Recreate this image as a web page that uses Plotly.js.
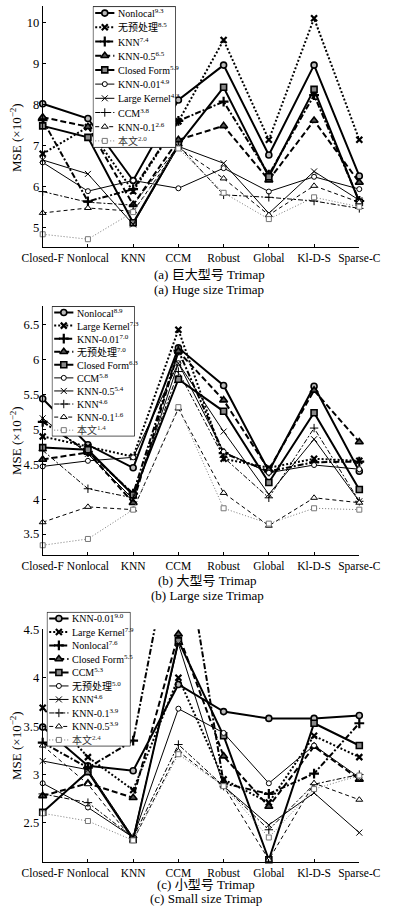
<!DOCTYPE html>
<html><head><meta charset="utf-8">
<script src="https://cdn.plot.ly/plotly-3.0.1.min.js"></script>
<style>html,body{margin:0;padding:0;background:#fff}#chart{width:395px;height:914px}</style>
</head><body><div id="chart"></div>
<script>
// ---------- data ----------
const categories = ['Closed-F','Nonlocal','KNN','CCM','Robust','Global','Kl-D-S','Sparse-C'];

// (a) Huge size trimap
const namesA = ['Nonlocal','无预处理','KNN','KNN-0.5','Closed Form','KNN-0.01','Large Kernel','CCM','KNN-0.1','本文'];
const ranksA = ['9.3','8.5','7.4','6.5','5.9','4.9','4.3','3.8','2.6','2.0'];
const hugeNonlocal    = [8.02, 7.66, 6.15, 8.11, 8.96, 6.77, 8.96, 6.26];
const hugeNoPre       = [6.80, 7.45, 5.89, 7.59, 9.57, 7.14, 10.10, 7.14];
const hugeKNN         = [7.62, 5.64, 5.94, 7.60, 8.07, 6.29, 8.23, 5.65];
const hugeKNN05       = [7.69, 7.46, 5.56, 7.14, 7.48, 6.16, 7.61, 6.10];
const hugeClosedForm  = [7.48, 7.20, 5.12, 7.02, 8.42, 6.24, 8.37, 5.62];
const hugeKNN001      = [6.59, 5.89, 6.15, 5.96, 6.45, 5.88, 6.24, 5.94];
const hugeLargeKernel = [6.65, 6.31, 5.08, 6.98, 6.57, 5.35, 6.37, 5.67];
const hugeCCM         = [5.88, 5.62, 5.55, 7.00, 5.80, 5.74, 5.65, 5.47];
const hugeKNN01       = [5.36, 5.48, 5.40, 6.95, 6.20, 5.31, 6.02, 5.62];
const hugeOurs        = [4.84, 4.72, 5.38, 6.93, 5.85, 5.21, 5.74, 5.51];
const yTicksA = [5, 6, 7, 8, 9, 10];

// (b) Large size trimap
const namesB = ['Nonlocal','Large Kernel','KNN-0.01','无预处理','Closed Form','CCM','KNN-0.5','KNN','KNN-0.1','本文'];
const ranksB = ['8.9','7.3','7.0','7.0','6.3','5.8','5.4','4.6','1.6','1.4'];
const largeNonlocal    = [5.44, 4.78, 4.45, 6.17, 5.63, 4.40, 5.62, 4.40];
const largeLargeKernel = [4.90, 4.75, 4.61, 6.43, 4.58, 4.45, 4.58, 4.55];
const largeKNN001      = [5.11, 4.68, 4.08, 6.13, 4.66, 4.40, 4.53, 4.54];
const largeNoPre       = [4.57, 4.67, 3.95, 6.12, 5.42, 4.42, 5.56, 4.82];
const largeClosedForm  = [4.74, 4.71, 4.06, 5.72, 5.26, 4.24, 5.24, 4.14];
const largeCCM         = [4.47, 4.55, 4.60, 5.95, 4.68, 4.38, 4.49, 4.43];
const largeKNN05       = [5.16, 4.65, 4.00, 5.95, 4.97, 4.07, 4.86, 3.97];
const largeKNN         = [4.70, 4.15, 4.02, 5.83, 4.60, 4.02, 5.02, 3.97];
const largeKNN01       = [3.67, 3.89, 3.85, 5.30, 4.09, 3.62, 4.02, 3.95];
const largeOurs        = [3.34, 3.43, 3.85, 5.32, 3.87, 3.65, 3.87, 3.85];
const yTicksB = [3.5, 4, 4.5, 5, 5.5, 6, 6.5];

// (c) Small size trimap
const namesC = ['KNN-0.01','Large Kernel','Nonlocal','Closed Form','CCM','无预处理','KNN','KNN-0.1','KNN-0.5','本文'];
const ranksC = ['9.0','7.9','7.6','5.5','5.3','5.0','4.6','3.9','3.9','2.4'];
const smallKNN001      = [3.49, 3.09, 3.04, 3.93, 3.65, 3.58, 3.58, 3.61];
const smallLargeKernel = [3.69, 3.18, 2.84, 4.00, 2.95, 2.71, 3.40, 3.18];
const smallNonlocal    = [3.33, 3.07, 3.35, 5.78, 2.91, 2.80, 3.01, 3.53];
const smallClosedForm  = [2.78, 2.91, 2.76, 4.45, 3.19, 2.67, 3.29, 2.95];
const smallCCM         = [2.61, 3.03, 2.33, 4.38, 3.40, 2.12, 3.53, 3.30];
const smallNoPre       = [2.91, 2.66, 2.35, 3.68, 3.43, 2.91, 3.30, 2.97];
const smallKNN         = [3.14, 3.05, 2.35, 4.35, 2.88, 2.48, 2.81, 2.40];
const smallKNN01       = [2.80, 2.71, 2.35, 3.31, 2.88, 2.43, 2.90, 3.00];
const smallKNN05       = [3.30, 2.90, 2.32, 3.24, 2.88, 2.12, 2.91, 2.74];
const smallOurs        = [2.60, 2.52, 2.32, 3.21, 2.88, 2.35, 2.85, 2.99];
const yTicksC = [2.5, 3, 3.5, 4, 4.5];

// ---------- styles (by legend slot) ----------
const STY = [
  {w:2, dash:'solid',           sym:'circle',          ms:6, fill:'#bbb', mlw:1.6, color:'#000'},
  {w:2, dash:'2px,2px',         sym:'x-thin-open',     ms:6, fill:'#000', mlw:2.2, color:'#000'},
  {w:2, dash:'6px,2px,2px,2px', sym:'cross-thin-open', ms:7, fill:'#000', mlw:2.2, color:'#000'},
  {w:2, dash:'6px,3px',         sym:'triangle-up',     ms:7, fill:'#555', mlw:1.6, color:'#000'},
  {w:2, dash:'solid',           sym:'square',          ms:6, fill:'#888', mlw:1.6, color:'#000'},
  {w:1, dash:'solid',           sym:'circle',          ms:5, fill:'#fff', mlw:1,   color:'#000'},
  {w:1, dash:'solid',           sym:'x-thin-open',     ms:6, fill:'#000', mlw:1,   color:'#000'},
  {w:1, dash:'5px,2px,2px,2px', sym:'cross-thin-open', ms:6, fill:'#000', mlw:1,   color:'#000'},
  {w:1, dash:'4px,3px',         sym:'triangle-up',     ms:6, fill:'#fff', mlw:1,   color:'#000'},
  {w:1, dash:'1px,2px',         sym:'square',          ms:5, fill:'#fff', mlw:1,   color:'#777'}
];

const W = 395, H = 914;
const fx = v => v / W;
const fy = v => 1 - v / H;
const FONT = 'Liberation Serif, "Noto Sans CJK SC", serif';

const panels = [
  {series:[hugeNonlocal,hugeNoPre,hugeKNN,hugeKNN05,hugeClosedForm,hugeKNN001,hugeLargeKernel,hugeCCM,hugeKNN01,hugeOurs],
   names:namesA, ranks:ranksA, ticks:yTicksA, range:[4.53,10.4], top:6, bot:247,
   leg:{x0:92.7,x1:176,y0:6,y1:148}, cap1:'(a) 巨大型号 Trimap', cap2:'(a) Huge size Trimap', capY:[274,289], capX:209, titleY:138},
  {series:[largeNonlocal,largeLargeKernel,largeKNN001,largeNoPre,largeClosedForm,largeCCM,largeKNN05,largeKNN,largeKNN01,largeOurs],
   names:namesB, ranks:ranksB, ticks:yTicksB, range:[3.2,6.77], top:306, bot:555,
   leg:{x0:51.7,x1:135,y0:306,y1:436.7}, cap1:'(b) 大型号 Trimap', cap2:'(b) Large size Trimap', capY:[580,595], capX:207, titleY:441},
  {series:[smallKNN001,smallLargeKernel,smallNonlocal,smallClosedForm,smallCCM,smallNoPre,smallKNN,smallKNN01,smallKNN05,smallOurs],
   names:namesC, ranks:ranksC, ticks:yTicksC, range:[2.10,4.5], top:629.3, bot:861.7,
   leg:{x0:46.7,x1:130.7,y0:611.7,y1:746.7}, cap1:'(c) 小型号 Trimap', cap2:'(c) Small size Trimap', capY:[884,898], capX:206, titleY:746}
];

const traces = [];
const layout = {
  width: W, height: H,
  margin: {l:0, r:0, t:0, b:0},
  paper_bgcolor: '#fff', plot_bgcolor: 'rgba(0,0,0,0)',
  showlegend: false,
  font: {family: FONT, color: '#000'},
  annotations: []
};

panels.forEach((p, k) => {
  const xid = k === 0 ? 'x' : 'x' + (k + 1);
  const yid = k === 0 ? 'y' : 'y' + (k + 1);
  const xkey = k === 0 ? 'xaxis' : 'xaxis' + (k + 1);
  const ykey = k === 0 ? 'yaxis' : 'yaxis' + (k + 1);
  layout[xkey] = {
    domain: [fx(42.7), fx(359.3)], anchor: yid, type: 'category',
    categoryorder: 'array', categoryarray: categories,
    range: [0, 7], showgrid: false, zeroline: false,
    showline: true, linecolor: '#000', linewidth: 1,
    ticks: 'inside', ticklen: 3, tickcolor: '#000',
    tickfont: {family: FONT, size: 11.5, color: '#000'}, fixedrange: true
  };
  layout[ykey] = {
    domain: [fy(p.bot), fy(p.top)], anchor: xid,
    range: p.range, tickmode: 'array', tickvals: p.ticks,
    showgrid: false, zeroline: false,
    showline: true, linecolor: '#000', linewidth: 1,
    ticks: 'inside', ticklen: 3, tickcolor: '#000',
    tickfont: {family: FONT, size: 12.5, color: '#000'}, fixedrange: true
  };
  p.series.forEach((vals, i) => {
    const s = STY[i];
    traces.push({
      x: categories, y: vals, xaxis: xid, yaxis: yid,
      type: 'scatter', mode: 'lines+markers', cliponaxis: false, hoverinfo: 'skip',
      line: {color: s.color, width: s.w, dash: s.dash},
      marker: {symbol: s.sym, size: s.ms, color: s.fill, line: {color: s.color, width: s.mlw}}
    });
  });

  // custom compact legend on its own overlay axes
  const lx = 'x' + (k + 4), ly = 'y' + (k + 4);
  layout['xaxis' + (k + 4)] = {domain: [fx(p.leg.x0), fx(p.leg.x1)], anchor: ly, range: [0, 1], visible: false, fixedrange: true};
  layout['yaxis' + (k + 4)] = {domain: [fy(p.leg.y1), fy(p.leg.y0)], anchor: lx, range: [10, 0], visible: false, fixedrange: true};
  traces.push({
    x: [0.004, 0.996, 0.996, 0.004, 0.004], y: [0.04, 0.04, 9.96, 9.96, 0.04],
    xaxis: lx, yaxis: ly, type: 'scatter', mode: 'lines', fill: 'toself',
    fillcolor: '#fff', line: {color: '#000', width: 0.8}, hoverinfo: 'skip'
  });
  p.names.forEach((nm, i) => {
    const s = STY[i];
    const row = i + 0.5;
    traces.push({
      x: [0.03, 0.145, 0.26], y: [row, row, row], xaxis: lx, yaxis: ly,
      type: 'scatter', mode: 'lines+markers', cliponaxis: false, hoverinfo: 'skip',
      line: {color: s.color, width: s.w, dash: s.dash},
      marker: {symbol: s.sym, size: s.ms, color: s.fill, opacity: [0, 1, 0], line: {color: s.color, width: s.mlw}}
    });
    layout.annotations.push({
      xref: lx, yref: ly, x: 0.28, y: row, xanchor: 'left', yanchor: 'middle',
      text: nm + '<sup>' + p.ranks[i] + '</sup>', showarrow: false,
      font: {family: FONT, size: 10, color: s.color === '#777' ? '#333' : '#000'}
    });
  });

  // y-axis title
  layout.annotations.push({
    xref: 'paper', yref: 'paper', x: fx(16), y: fy(p.titleY), xanchor: 'center', yanchor: 'middle',
    textangle: -90, showarrow: false, text: 'MSE (×10<sup>−2</sup>)',
    font: {family: FONT, size: 13, color: '#000'}
  });
  // captions
  layout.annotations.push({
    xref: 'paper', yref: 'paper', x: fx(p.capX), y: fy(p.capY[0]), xanchor: 'center', yanchor: 'middle',
    showarrow: false, text: p.cap1, font: {family: FONT, size: 13, color: '#000'}
  });
  layout.annotations.push({
    xref: 'paper', yref: 'paper', x: fx(p.capX), y: fy(p.capY[1]), xanchor: 'center', yanchor: 'middle',
    showarrow: false, text: p.cap2, font: {family: FONT, size: 13, color: '#000'}
  });
});

Plotly.newPlot('chart', traces, layout, {displayModeBar: false, staticPlot: true});
</script>
</body></html>
